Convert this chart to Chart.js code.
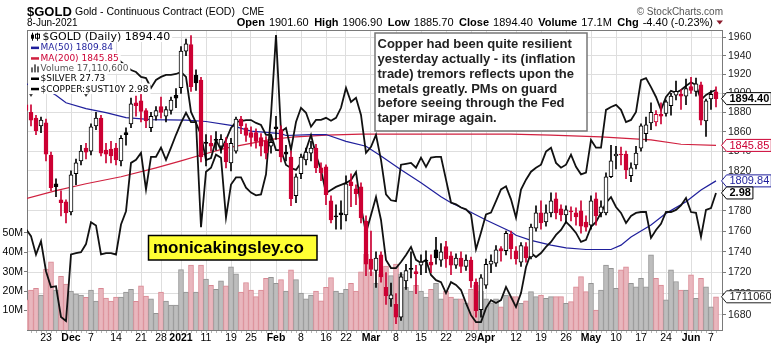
<!DOCTYPE html>
<html>
<head>
<meta charset="utf-8">
<title>$GOLD daily</title>
<script src="https://cdn.jsdelivr.net/npm/chart.js@4.4.1/dist/chart.umd.min.js"></script>
<style>
  html, body { margin: 0; padding: 0; background: #fff; }
  canvas { display: block; }
</style>
</head>
<body>
<canvas id="gold" width="771" height="347"></canvas>
<script>
// trading days on the chart (the first one is only partly visible at the left edge)
const dates = [
  '2020-11-17','2020-11-18','2020-11-19','2020-11-20','2020-11-23','2020-11-24','2020-11-25','2020-11-27','2020-11-30',
  '2020-12-01','2020-12-02','2020-12-03','2020-12-04','2020-12-07','2020-12-08','2020-12-09','2020-12-10','2020-12-11',
  '2020-12-14','2020-12-15','2020-12-16','2020-12-17','2020-12-18','2020-12-21','2020-12-22','2020-12-23','2020-12-24',
  '2020-12-28','2020-12-29','2020-12-30','2020-12-31',
  '2021-01-04','2021-01-05','2021-01-06','2021-01-07','2021-01-08','2021-01-11','2021-01-12','2021-01-13','2021-01-14',
  '2021-01-15','2021-01-19','2021-01-20','2021-01-21','2021-01-22','2021-01-25','2021-01-26','2021-01-27','2021-01-28','2021-01-29',
  '2021-02-01','2021-02-02','2021-02-03','2021-02-04','2021-02-05','2021-02-08','2021-02-09','2021-02-10','2021-02-11',
  '2021-02-12','2021-02-16','2021-02-17','2021-02-18','2021-02-19','2021-02-22','2021-02-23','2021-02-24','2021-02-25','2021-02-26',
  '2021-03-01','2021-03-02','2021-03-03','2021-03-04','2021-03-05','2021-03-08','2021-03-09','2021-03-10','2021-03-11',
  '2021-03-12','2021-03-15','2021-03-16','2021-03-17','2021-03-18','2021-03-19','2021-03-22','2021-03-23','2021-03-24',
  '2021-03-25','2021-03-26','2021-03-29','2021-03-30','2021-03-31',
  '2021-04-01','2021-04-05','2021-04-06','2021-04-07','2021-04-08','2021-04-09','2021-04-12','2021-04-13','2021-04-14',
  '2021-04-15','2021-04-16','2021-04-19','2021-04-20','2021-04-21','2021-04-22','2021-04-23','2021-04-26','2021-04-27',
  '2021-04-28','2021-04-29','2021-04-30',
  '2021-05-03','2021-05-04','2021-05-05','2021-05-06','2021-05-07','2021-05-10','2021-05-11','2021-05-12','2021-05-13',
  '2021-05-14','2021-05-17','2021-05-18','2021-05-19','2021-05-20','2021-05-21','2021-05-24','2021-05-25','2021-05-26',
  '2021-05-27','2021-05-28',
  '2021-06-01','2021-06-02','2021-06-03','2021-06-04','2021-06-07','2021-06-08'
];

// $GOLD daily candles
const open = [
  1888,1880,1874,1866,1869,1836,1807,1791,1789,
  1779,1817,1830,1843,1840,1866,1874,1841,1842,1843,1830,1859,1868,1890,1892,1882,1864,1876,1886,1876,1882,1898,
  1906,1945,1952,1919,1914,1849,1848,1852,1845,1848,1828,1840,1873,1864,1859,1859,1854,1850,1845,
  1865,1862,1839,1834,1795,1817,1831,1838,1843,1823,1824,1790,1775,1778,1776,1809,1802,1804,1770,
  1733,1722,1737,1706,1695,1690,1678,1712,1724,1721,1727,1732,1730,1742,1732,1745,1736,1727,1734,1726,1732,1711,1685,
  1708,1728,1729,1743,1741,1757,1741,1730,1745,1735,1763,1778,1769,1778,1792,1782,1776,1780,1778,1780,1769,
  1766,1792,1778,1778,1814,1835,1837,1837,1815,1826,1843,1858,1869,1870,1878,1879,1887,1898,1899,1897,
  1907,1902,1909,1871,1894,1901.6
];
const high = [
  1893,1888,1877,1875,1873,1839,1812,1800,1791,
  1820,1832,1846,1848,1868,1880,1877,1848,1850,1848,1856,1864,1895,1897,1906,1884,1880,1886,1896,1886,1896,1905,
  1950,1958,1962,1925,1917,1857,1856,1860,1857,1854,1853,1875,1876,1868,1865,1863,1858,1855,1856,
  1876,1866,1846,1840,1817,1837,1843,1850,1847,1828,1826,1795,1786,1790,1815,1817,1806,1808,1775,
  1760,1740,1740,1720,1710,1700,1720,1728,1740,1727,1737,1741,1737,1754,1748,1750,1740,1738,1740,1737,1735,1714,1718,
  1733,1737,1746,1745,1760,1760,1745,1749,1749,1767,1785,1790,1786,1798,1798,1786,1785,1784,1783,1790,1775,
  1795,1798,1790,1818,1846,1845,1844,1840,1828,1845,1868,1875,1890,1882,1890,1893,1900,1913,1904,1915,
  1917,1916,1912,1894,1903,1906.9
];
const low = [
  1875,1866,1857,1859,1830,1800,1794,1775,1768,
  1776,1806,1826,1832,1836,1862,1835,1828,1828,1826,1825,1846,1864,1876,1870,1864,1860,1872,1874,1870,1878,1885,
  1900,1940,1902,1903,1829,1825,1840,1841,1838,1823,1820,1838,1858,1850,1845,1843,1835,1832,1838,
  1852,1829,1830,1785,1788,1812,1826,1830,1818,1810,1786,1768,1762,1762,1770,1784,1786,1768,1717,
  1717,1706,1711,1690,1688,1672,1675,1704,1715,1700,1718,1720,1720,1728,1726,1725,1718,1724,1720,1722,1706,1678,1678,
  1705,1720,1726,1731,1737,1733,1728,1726,1730,1733,1760,1762,1765,1774,1772,1770,1768,1770,1766,1758,1760,
  1762,1766,1774,1776,1813,1822,1826,1812,1809,1822,1840,1850,1862,1866,1868,1876,1877,1893,1883,1888,
  1900,1897,1867,1855,1883,1885.7
];
const close = [
  1882,1872,1861,1872,1837,1803,1804,1788,1778,
  1816,1828,1840,1839,1865,1874,1838,1837,1835,1831,1853,1857,1889,1887,1881,1871,1876,1882,1880,1883,1893,1895,
  1945,1953,1907,1911,1834,1848,1845,1851,1852,1829,1848,1873,1866,1856,1854,1850,1845,1838,1849,
  1863,1834,1837,1792,1814,1834,1839,1843,1823,1818,1796,1771,1774,1776,1807,1805,1797,1773,1728,
  1723,1734,1716,1698,1699,1678,1716,1722,1723,1719,1730,1731,1727,1734,1740,1733,1727,1734,1726,1732,1712,1684,1715,
  1728,1731,1742,1741,1758,1743,1733,1746,1734,1764,1778,1768,1778,1790,1778,1776,1781,1779,1774,1765,1764,
  1790,1775,1784,1814,1830,1837,1836,1821,1823,1838,1866,1867,1880,1878,1876,1891,1897,1902,1897,1905,
  1903,1910,1872,1892,1898.8,1894.4
];

// daily volume, millions
const volumeM = [
  15.5,20.6,21.5,18.0,31.4,35.1,20.6,27.7,23.6,
  20.1,18.6,18.0,16.8,20.6,14.9,21.5,16.5,14.9,17.0,17.0,19.6,21.0,14.8,22.7,17.5,16.0,8.6,19.6,14.9,12.9,12.9,
  31.1,19.6,33.5,19.6,33.5,26.3,23.0,21.0,25.3,22.7,32.5,29.0,19.6,24.5,20.6,17.2,20.6,26.6,27.2,
  24.1,26,20,31,26,19,16,18,20,15,22,27,20,19,21,24,20,30,39,
  30,24,29,33,28,34,29,22,20,23,20,17,21,24,16,20,17,16,16,14,21,23,20,
  16,14,16,12,18,17.2,17.2,13.7,15,19.8,17.2,18.0,16.3,17.2,17.2,17.2,13.7,14.6,22.3,27.5,19.8,
  24.0,10.3,20.6,33.5,31.8,21.5,31.0,32.6,24.0,22.3,26.6,22.3,38.7,26.6,23.2,15.5,31.0,25.0,20.6,20.6,
  28.4,16.3,26.6,22.3,12.0,17.1106
];

// $SILVER overlay (closes)
const silver = [
  24.54,24.39,24.00,24.28,23.65,23.32,23.34,22.72,22.64,
  24.00,24.03,24.05,24.22,24.69,24.62,24.00,24.03,24.03,24.00,24.64,24.93,26.01,26.08,26.24,25.41,26.15,26.15,26.36,26.08,26.36,26.66,
  26.94,27.18,26.96,26.96,24.58,25.81,25.90,26.20,26.13,24.79,25.52,25.68,25.68,25.45,25.34,25.28,25.30,25.75,27.13,
  29.10,26.73,26.82,26.31,26.96,27.30,27.18,26.85,27.01,27.01,27.06,26.99,27.06,27.30,27.78,27.44,27.54,27.13,26.24,
  26.38,26.66,26.08,25.30,25.17,25.15,25.97,25.99,26.01,25.90,26.13,25.92,26.13,26.15,26.15,25.63,25.12,25.08,25.01,24.97,24.86,24.11,24.47,
  24.86,24.90,25.15,25.41,25.48,25.19,24.79,25.41,25.63,25.81,25.90,25.97,26.27,26.36,26.01,25.90,25.97,26.20,25.92,25.75,25.79,
  26.54,26.36,26.36,27.25,27.32,27.37,27.25,26.96,27.01,27.20,27.97,28.02,27.80,27.56,27.25,27.56,27.71,27.66,27.73,27.83,
  27.92,27.85,27.49,27.61,27.68,27.73
];

// $COPPER:$UST10Y ratio overlay (left part hidden behind the legend)
const copperUst = [
  null,null,null,null,null,null,null,null,null,
  null,null,null,null,null,null,null,null,3.923,3.907,3.869,3.838,3.807,3.792,3.755,3.747,3.673,3.732,3.755,3.770,3.770,3.777,
  3.792,3.755,3.502,3.426,3.345,3.182,3.195,3.312,3.246,3.312,3.392,3.433,3.439,3.446,3.446,3.426,3.412,3.345,3.345,
  3.246,3.246,3.151,3.132,3.120,3.164,3.246,3.345,3.214,3.120,2.980,2.998,3.016,3.028,3.040,3.058,3.107,2.898,2.752,
  2.852,2.956,2.824,2.608,2.566,2.566,2.597,2.634,2.676,2.608,2.592,2.608,2.531,2.505,2.495,2.441,2.495,2.481,2.456,2.393,2.336,2.304,2.304,
  2.369,2.407,2.393,2.407,2.471,2.422,2.374,2.441,2.571,2.644,2.623,2.644,2.676,2.703,2.741,2.768,2.813,2.785,2.752,2.703,2.714,
  2.785,2.813,2.864,2.921,2.956,2.898,2.864,2.807,2.847,2.864,2.869,2.869,2.725,2.768,2.802,2.869,2.869,2.881,2.907,2.950,
  2.869,2.864,2.730,2.881,2.892,2.980
];

// moving averages read at points along the lines (index into dates, value)
const ma50Idx = [0,4,6,8,12,16,20,25,32,36,41,45,51,52,57,60,64,68,71,75,79,83,85,88,92,97,98,101,105,108,112,117,119,121,125,128,132,135,138];
const ma50Val = [1910,1904,1898,1890,1884,1879.8,1874.6,1872.5,1872,1870.5,1866.5,1860.5,1858,1856,1857,1857,1850,1845,1835,1821,1808,1794,1788,1781,1771,1759.4,1756,1751,1746.4,1743.8,1742.2,1742.2,1746.4,1754.4,1766,1777.5,1789,1800.6,1809.84];
const ma200Idx = [0,6,12,19,26,31,35,40,46,49,54,60,67,80,97,105,115,125,131,138];
const ma200Val = [1792,1800,1807,1814,1823,1830,1836,1843,1849,1852,1854.7,1856.5,1857.5,1857.5,1857.5,1856.5,1854.7,1851.5,1847,1845.85];

// axis labels
const tickDates = ['2020-11-23','2020-12-01','2020-12-07','2020-12-14','2020-12-21','2020-12-28','2021-01-04','2021-01-11',
  '2021-01-19','2021-01-25','2021-02-01','2021-02-08','2021-02-16','2021-02-22','2021-03-01','2021-03-08','2021-03-15',
  '2021-03-22','2021-03-29','2021-04-01','2021-04-12','2021-04-19','2021-04-26','2021-05-03','2021-05-10','2021-05-17',
  '2021-05-24','2021-06-01','2021-06-07'];
const tickText = ['23','Dec','7','14','21','28','2021','11','19','25','Feb','8','16','22','Mar','8','15','22','29','Apr',
  '12','19','26','May','10','17','24','Jun','7'];
const boldTicks = ['Dec','2021','Feb','Mar','Apr','May','Jun'];
const priceTicks = [1680,1700,1720,1740,1760,1780,1800,1820,1840,1860,1880,1900,1920,1940,1960];
const volTicks = [10,20,30,40,50];
const eventIdx = [1,12];

const note = ['Copper had been quite resilient','yesterday actually - its (inflation','trade) tremors reflects upon the',
  'metals greatly. PMs on guard','before seeing through the Fed','taper mirage again.'];

const SANS = '"Liberation Sans", Arial, sans-serif';
const DEJA = '"DejaVu Sans", Verdana, sans-serif';
const RED = '#cc0033', NAVY = '#1f1f9c', MA200C = '#d0203f', GRID = '#dedede', FRAME = '#7a7a7a';

const last = dates.length - 1;
const tickIdx = tickDates.map(d => dates.indexOf(d));
const candleCol = close.map((c, k) => c >= (k ? close[k - 1] : open[k]) ? '#000000' : RED);

function tag(ctx, y, text, color, bold) {
  ctx.save();
  ctx.font = (bold ? 'bold ' : '') + '11px ' + SANS;
  const w = ctx.measureText(text).width + 4;
  const x0 = 721.5, h = 6;
  ctx.beginPath();
  ctx.moveTo(x0, y);
  ctx.lineTo(x0 + 5, y - h);
  ctx.lineTo(x0 + 6 + w, y - h);
  ctx.lineTo(x0 + 6 + w, y + h);
  ctx.lineTo(x0 + 5, y + h);
  ctx.closePath();
  ctx.fillStyle = '#fff';
  ctx.fill();
  ctx.lineWidth = 1;
  ctx.strokeStyle = color;
  ctx.stroke();
  ctx.fillStyle = color;
  ctx.textBaseline = 'middle';
  ctx.fillText(text, x0 + 8, y + 0.5);
  ctx.restore();
}

const overlay = {
  id: 'overlay',
  afterDatasetsDraw(chart) {
    const ctx = chart.ctx, x = chart.scales.x;
    ctx.save();
    // event markers
    ctx.fillStyle = '#333';
    eventIdx.forEach(k => {
      const px = x.getPixelForValue(k);
      ctx.beginPath();
      ctx.moveTo(px - 2.5, 93);
      ctx.lineTo(px + 2.5, 93);
      ctx.lineTo(px, 97);
      ctx.fill();
    });
    // legend
    const rows = [
      { t: '$GOLD (Daily) ' + close[last].toFixed(2), c: '#000', f: '11px ' + DEJA, y: 36.7, tx: 42.5, icon: 'candle' },
      { t: 'MA(50) ' + ma50Val[ma50Val.length - 1].toFixed(2), c: NAVY, f: '9px ' + DEJA, y: 47.6, tx: 40.5, icon: NAVY },
      { t: 'MA(200) ' + ma200Val[ma200Val.length - 1].toFixed(2), c: RED, f: '9px ' + DEJA, y: 58.2, tx: 40.5, icon: MA200C },
      { t: 'Volume ' + Math.round(volumeM[last] * 1e6).toLocaleString('en-US'), c: '#555', f: '9px ' + DEJA, y: 68.4, tx: 40.5, icon: 'vol' },
      { t: '$SILVER ' + silver[last].toFixed(2), c: '#000', f: '9px ' + DEJA, y: 78.5, tx: 40.5, icon: '#000' },
      { t: '$COPPER:$UST10Y ' + copperUst[last].toFixed(2), c: '#000', f: '9px ' + DEJA, y: 88.8, tx: 40.5, icon: '#000' }
    ];
    rows.forEach(r => {
      ctx.font = r.f;
      const w = ctx.measureText(r.t).width;
      ctx.fillStyle = '#fff';
      ctx.fillRect(28, r.y - 5.3, r.tx + w - 26, 10.6);
      ctx.fillStyle = r.c;
      ctx.textBaseline = 'middle';
      ctx.fillText(r.t, r.tx, r.y + 0.5);
      if (r.icon === 'candle') {
        ctx.fillStyle = '#000';
        ctx.fillRect(32, r.y - 4, 1, 8);
        ctx.fillRect(31, r.y - 2, 3, 4);
        ctx.fillRect(37, r.y - 4, 1, 8);
        ctx.strokeStyle = '#000';
        ctx.lineWidth = 1;
        ctx.strokeRect(35.5, r.y - 2.5, 4, 4);
      } else if (r.icon === 'vol') {
        ctx.fillStyle = '#666';
        ctx.fillRect(31, r.y - 1, 2, 5);
        ctx.fillRect(34, r.y - 4, 2, 8);
        ctx.fillRect(37, r.y - 2, 2, 6);
      } else {
        ctx.fillStyle = r.icon;
        ctx.fillRect(31, r.y - 1, 8, 2.5);
      }
    });
    ctx.restore();
  },
  afterDraw(chart) {
    const ctx = chart.ctx, a = chart.chartArea, s = chart.scales;
    ctx.save();
    // frame top line and day ticks under the axis
    ctx.fillStyle = FRAME;
    ctx.fillRect(a.left, a.top, a.right - a.left, 1);
    ctx.fillStyle = '#b5b5b5';
    dates.forEach((d, k) => {
      const px = Math.round(s.x.getPixelForValue(k));
      if (px > a.left && px < a.right) ctx.fillRect(px, a.bottom + 1, 1, 2);
    });

    // header
    ctx.fillStyle = '#000';
    ctx.textBaseline = 'alphabetic';
    ctx.font = 'bold 13px ' + SANS;
    ctx.fillText('$GOLD', 27, 16);
    ctx.font = '10.5px ' + SANS;
    ctx.fillText('Gold - Continuous Contract (EOD)', 75, 15);
    ctx.font = '10px ' + SANS;
    ctx.fillText('CME', 242, 15);
    ctx.fillText('8-Jun-2021', 27, 26);
    const chg = close[last] - close[last - 1];
    const hdr = [
      ['Open', true], [open[last].toFixed(2)], ['High', true], [high[last].toFixed(2)],
      ['Low', true], [low[last].toFixed(2)], ['Close', true], [close[last].toFixed(2)],
      ['Volume', true], [(volumeM[last]).toFixed(1) + 'M'], ['Chg', true],
      [chg.toFixed(2) + ' (' + (chg / close[last - 1] * 100).toFixed(2) + '%)']
    ];
    const fontOf = h => (h[1] ? 'bold ' : '') + '11px ' + SANS;
    let total = 0;
    hdr.forEach((h, i) => {
      ctx.font = fontOf(h);
      total += ctx.measureText(h[0]).width + (i < hdr.length - 1 ? (h[1] ? 4 : 5.5) : 0);
    });
    let hx = 713 - total;
    hdr.forEach(h => {
      ctx.font = fontOf(h);
      ctx.fillText(h[0], hx, 26);
      hx += ctx.measureText(h[0]).width + (h[1] ? 4 : 5.5);
    });
    ctx.fillStyle = '#8b1a2b';
    ctx.beginPath();
    ctx.moveTo(716.5, 20.5); ctx.lineTo(723, 20.5); ctx.lineTo(719.7, 24.5); ctx.fill();
    ctx.fillStyle = '#555';
    ctx.font = '10px ' + SANS;
    ctx.textAlign = 'right';
    ctx.fillText('\u00a9 StockCharts.com', 723, 15);
    ctx.textAlign = 'left';

    // note box
    ctx.fillStyle = '#fff';
    ctx.fillRect(375, 33, 212, 98);
    ctx.strokeStyle = '#777';
    ctx.lineWidth = 1.5;
    ctx.strokeRect(375, 33, 212, 98);
    ctx.fillStyle = '#222';
    ctx.font = 'bold 13px ' + SANS;
    ctx.textBaseline = 'middle';
    note.forEach((t, i) => ctx.fillText(t, 377.5, 44.5 + i * 14.85));

    // site label
    ctx.fillStyle = '#ffff33';
    ctx.fillRect(148.5, 235.5, 168.5, 24.5);
    ctx.strokeStyle = '#000';
    ctx.lineWidth = 1.5;
    ctx.strokeRect(148.5, 235.5, 168.5, 24.5);
    ctx.fillStyle = '#000';
    ctx.font = 'bold 17px ' + SANS;
    ctx.fillText('monicakingsley.co', 153, 248.5);

    // last-value tags on the right axis
    tag(ctx, s.yVol.getPixelForValue(volumeM[last] * 1e6), String(Math.round(volumeM[last] * 1e6)).slice(0, 7), '#222', false);
    tag(ctx, s.yGold.getPixelForValue(ma50Val[ma50Val.length - 1]), ma50Val[ma50Val.length - 1].toFixed(2), NAVY, false);
    tag(ctx, s.yCopper.getPixelForValue(copperUst[last]), copperUst[last].toFixed(2), '#000', true);
    tag(ctx, s.yGold.getPixelForValue(ma200Val[ma200Val.length - 1]), ma200Val[ma200Val.length - 1].toFixed(2), RED, false);
    tag(ctx, s.yGold.getPixelForValue(close[last]), close[last].toFixed(2), '#000', true);
    ctx.restore();
  }
};

const idx = dates.map((d, k) => k);

new Chart(document.getElementById('gold'), {
  type: 'bar',
  data: {
    datasets: [
      {
        label: 'body', type: 'bar', yAxisID: 'yGold', order: 1, grouped: false,
        data: idx.map(k => ({ x: k, y: [open[k], close[k]] })),
        backgroundColor: idx.map(k => close[k] > open[k] ? '#ffffff' : candleCol[k]),
        borderColor: candleCol, borderWidth: 1, borderSkipped: false, barThickness: 4, minBarLength: 1
      },
      {
        label: 'wick', type: 'bar', yAxisID: 'yGold', order: 2, grouped: false,
        data: idx.map(k => ({ x: k, y: [low[k], high[k]] })),
        backgroundColor: candleCol, borderWidth: 0, barThickness: 1
      },
      {
        label: 'copper', type: 'line', yAxisID: 'yCopper', order: 3,
        data: idx.map(k => ({ x: k, y: copperUst[k] })),
        borderColor: '#111', borderWidth: 1.8, pointRadius: 0, tension: 0, spanGaps: false
      },
      {
        label: 'silver', type: 'line', yAxisID: 'ySilver', order: 3,
        data: idx.map(k => ({ x: k, y: silver[k] })),
        borderColor: '#111', borderWidth: 1.8, pointRadius: 0, tension: 0
      },
      {
        label: 'ma50', type: 'line', yAxisID: 'yGold', order: 4,
        data: ma50Idx.map((k, i) => ({ x: k, y: ma50Val[i] })),
        borderColor: NAVY, borderWidth: 1.2, pointRadius: 0, tension: 0
      },
      {
        label: 'ma200', type: 'line', yAxisID: 'yGold', order: 4,
        data: ma200Idx.map((k, i) => ({ x: k, y: ma200Val[i] })),
        borderColor: MA200C, borderWidth: 1.2, pointRadius: 0, tension: 0
      },
      {
        label: 'volume', type: 'bar', yAxisID: 'yVol', order: 9, grouped: false,
        data: idx.map(k => ({ x: k, y: volumeM[k] * 1e6 })),
        backgroundColor: candleCol.map(c => c === RED ? '#e9b6bd' : '#bdbdbd'),
        borderColor: candleCol.map(c => c === RED ? '#d98893' : '#939393'),
        borderWidth: 1, borderSkipped: 'bottom', barPercentage: 1, categoryPercentage: 1
      }
    ]
  },
  options: {
    responsive: false,
    animation: false,
    devicePixelRatio: 1,
    layout: { padding: { top: 30, left: 0, right: 0, bottom: 0 } },
    plugins: { legend: { display: false }, tooltip: { enabled: false } },
    scales: {
      x: {
        type: 'linear', min: 0.2, max: 139.2, offset: false, bounds: 'data',
        afterFit: sc => { sc.height = 17; },
        afterBuildTicks: sc => { sc.ticks = tickIdx.map(v => ({ value: v })); },
        ticks: {
          autoSkip: false, maxRotation: 0, padding: 2, color: '#000',
          callback: v => tickText[tickIdx.indexOf(v)],
          font: c => ({ family: SANS, size: 10.5, weight: boldTicks.includes(c.tick && c.tick.label) ? 'bold' : 'normal' })
        },
        grid: { color: GRID, drawTicks: false, offset: false },
        border: { color: FRAME }
      },
      yVol: {
        type: 'linear', position: 'left', min: 0, max: 154.6e6, bounds: 'data',
        afterFit: sc => { sc.width = 27; },
        afterBuildTicks: sc => { sc.ticks = volTicks.map(v => ({ value: v * 1e6 })); },
        ticks: { callback: v => (v / 1e6) + 'M', color: '#000', padding: 1, font: { family: SANS, size: 10.5 } },
        grid: { drawOnChartArea: false, tickLength: 3, tickColor: FRAME },
        border: { color: FRAME }
      },
      yGold: {
        type: 'logarithmic', position: 'right', min: 1666.06, max: 1967.96, bounds: 'data',
        afterFit: sc => { sc.width = 49; },
        afterBuildTicks: sc => { sc.ticks = priceTicks.map(v => ({ value: v })); },
        ticks: { callback: v => String(v), color: '#222', padding: 2, font: { family: SANS, size: 10.5 } },
        grid: { color: GRID, tickLength: 4, tickColor: FRAME },
        border: { color: FRAME }
      },
      ySilver: { type: 'logarithmic', display: false, min: 22.46, max: 29.23, bounds: 'data' },
      yCopper: { type: 'logarithmic', display: false, min: 2.268, max: 4.123, bounds: 'data' }
    }
  },
  plugins: [overlay]
});
</script>
</body>
</html>
